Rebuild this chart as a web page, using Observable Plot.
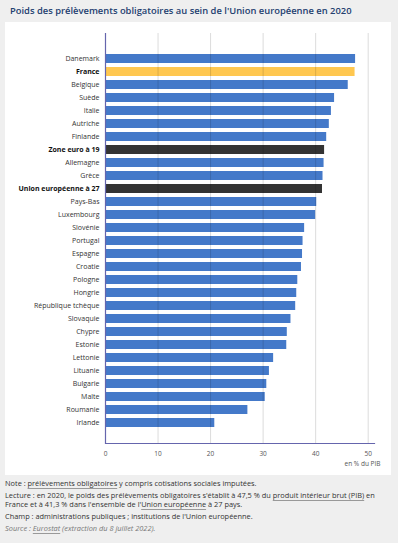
<!DOCTYPE html>
<html><head><meta charset="utf-8">
<script src="https://cdn.jsdelivr.net/npm/d3@7"></script>
<script src="https://cdn.jsdelivr.net/npm/@observablehq/plot@0.6"></script>
<style>
html,body{margin:0;padding:0}
body{background:#efefef;font-family:"Open Sans",sans-serif;width:398px;height:543px;overflow:hidden;position:relative}
#title{position:absolute;left:10px;top:4px;font-size:9.4px;color:#23406f;font-weight:600;white-space:nowrap}
#panel{position:absolute;left:5px;top:22px;width:386px;height:453px;background:#fff}
#panel svg{display:block}
#foot{position:absolute;left:5px;top:479px;width:392px;font-size:7.4px;color:#333;line-height:8.7px}
#foot p{margin:0 0 3.3px 0;white-space:nowrap}
.u{text-decoration:underline;text-decoration-color:#999;text-underline-offset:1.5px}
.src{font-style:italic;color:#777}
</style></head>
<body>
<div id="title">Poids des prélèvements obligatoires au sein de l'Union européenne en 2020</div>
<div id="panel"></div>
<div id="foot">
<p>Note : <span class="u">prélèvements obligatoires</span> y compris cotisations sociales imputées.</p>
<p>Lecture : en 2020, le poids des prélèvements obligatoires s'établit à 47,5 % du <span class="u">produit intérieur brut (PIB)</span> en<br>France et à 41,3 % dans l'ensemble de l'<span class="u">Union européenne</span> à 27 pays.</p>
<p>Champ : administrations publiques ; institutions de l'Union européenne.</p>
<p class="src">Source : <span class="u">Eurostat</span> (extraction du 8 juillet 2022).</p>
</div>
<script>
const pays = ["Danemark","France","Belgique","Suède","Italie","Autriche","Finlande","Zone euro à 19","Allemagne","Grèce","Union européenne à 27","Pays-Bas","Luxembourg","Slovénie","Portugal","Espagne","Croatie","Pologne","Hongrie","République tchèque","Slovaquie","Chypre","Estonie","Lettonie","Lituanie","Bulgarie","Malte","Roumanie","Irlande"];
const valeurs = [47.6,47.5,46.2,43.6,43.0,42.6,42.1,41.7,41.6,41.4,41.3,40.2,40.0,37.9,37.6,37.5,37.3,36.6,36.4,36.2,35.3,34.6,34.5,32.0,31.2,30.7,30.4,27.1,20.8];
const groupes = ["pays","france","pays","pays","pays","pays","pays","agregat","pays","pays","agregat","pays","pays","pays","pays","pays","pays","pays","pays","pays","pays","pays","pays","pays","pays","pays","pays","pays","pays"];
const xTicks = [0,10,20,30,40,50];
const xLabel = "en % du PIB";

const data = pays.map((p,i)=>({pays:p, valeur:valeurs[i], groupe:groupes[i]}));
const bold = d => d.groupe !== "pays";

const chart = Plot.plot({
  width:386, height:453,
  marginLeft:100, marginRight:17, marginTop:11, marginBottom:32,
  style:{fontFamily:"Open Sans, sans-serif", fontSize:"7px", background:"transparent", overflow:"visible"},
  x:{domain:[0,51.2], label:null},
  y:{domain:pays, paddingInner:0.3, paddingOuter:0, insetTop:19.6, insetBottom:13.6, label:null, axis:null},
  color:{domain:["pays","france","agregat"], range:["#4479c9","#ffc74f","#333333"]},
  marks:[
    Plot.barX(data,{x:"valeur", y:"pays", fill:"groupe"}),
    Plot.ruleX(xTicks.filter(t=>t>0), {stroke:"#000", strokeOpacity:0.14}),
    Plot.ruleX([0], {stroke:"#6565ad", strokeWidth:1.2}),
    Plot.frame({anchor:"bottom", stroke:"#6565ad", strokeWidth:1.2}),
    Plot.axisX({ticks:xTicks, tickSize:0, tickPadding:8, fill:"#555", fontSize:6.5, label:null}),
    Plot.text([xLabel], {frameAnchor:"bottom-right", dx:6, dy:22, textAnchor:"end", fill:"#555", fontSize:6.5}),
    Plot.text(data.filter(d=>!bold(d)), {x:0, y:"pays", text:"pays", dx:-6, textAnchor:"end", fill:"#333", fontSize:7}),
    Plot.text(data.filter(bold), {x:0, y:"pays", text:"pays", dx:-6, textAnchor:"end", fill:"#111", fontSize:7, fontWeight:"bold"})
  ]
});
document.getElementById("panel").appendChild(chart);
</script>
</body></html>
